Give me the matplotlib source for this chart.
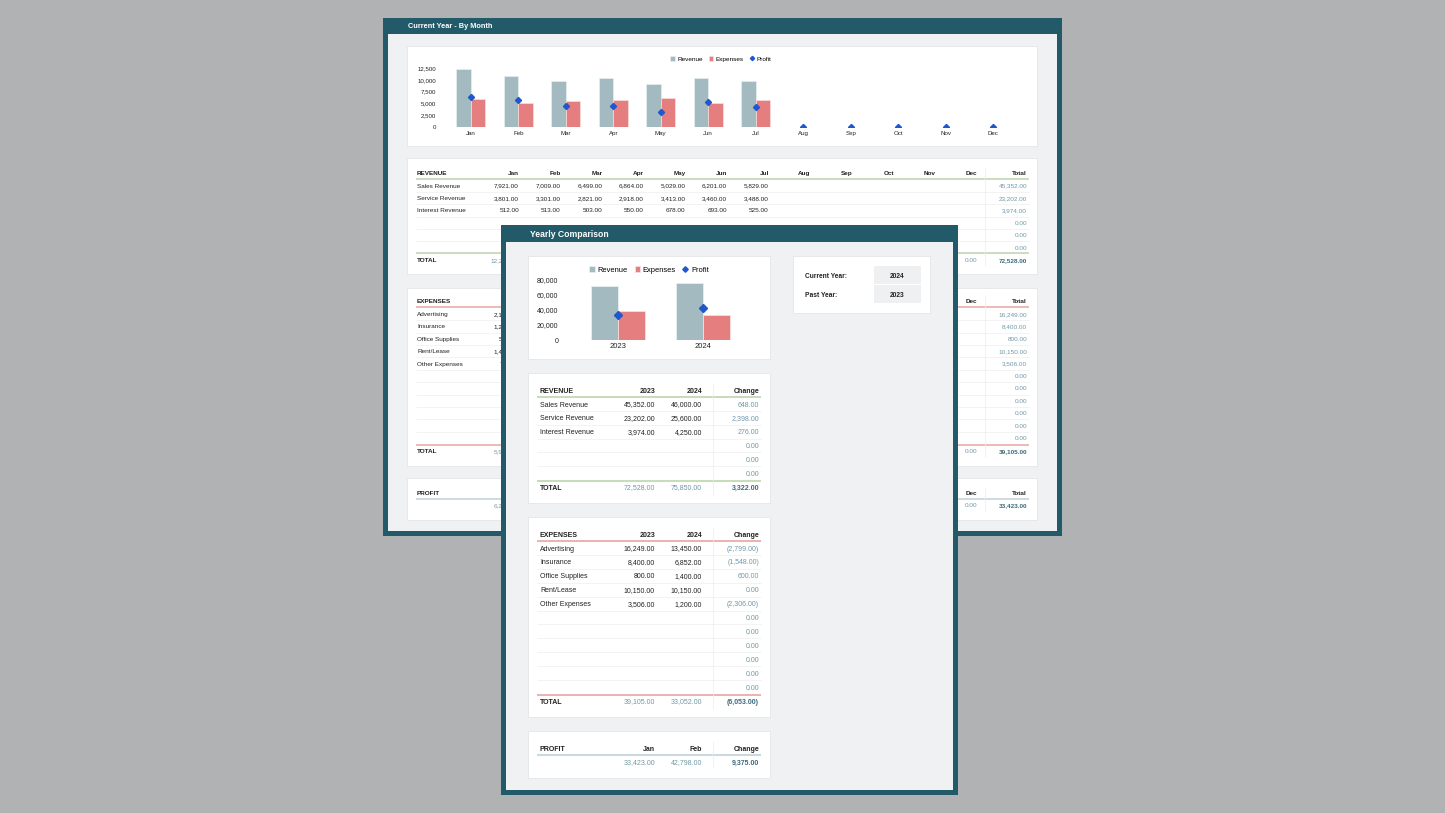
import numpy as np
import matplotlib.pyplot as plt
from matplotlib.patches import Rectangle

plt.rcParams['font.family'] = ['Liberation Sans', 'DejaVu Sans']

W, H = 1445, 813

# ---- data ----
months = ['Jan', 'Feb', 'Mar', 'Apr', 'May', 'Jun', 'Jul', 'Aug', 'Sep', 'Oct', 'Nov', 'Dec']
revenue_cats = ['Sales Revenue', 'Service Revenue', 'Interest Revenue']
sales_rev = [7921, 7009, 6499, 6864, 5029, 6201, 5829]
service_rev = [3801, 3301, 2821, 2918, 3413, 3460, 3488]
interest_rev = [512, 513, 503, 550, 678, 693, 525]
month_expenses = [5984, 5020, 5435, 5811, 6045, 5104, 5706]

expense_cats = ['Advertising', 'Insurance', 'Office Supplies', 'Rent/Lease', 'Other Expenses']
expense_jan = [2134, 1200, 500, 1450, 700]
expense_2023 = [16249, 8400, 800, 10150, 3506]
expense_2024 = [13450, 6852, 1400, 10150, 1200]

years = ['2023', '2024']
revenue_2023 = [45352, 23202, 3974]
revenue_2024 = [46000, 25600, 4250]

TEAL = '#225a6a'
PANEL = '#eff1f3'
REV_C = '#a3bac1'
EXP_C = '#e57f7f'
PROF_C = '#1f57cf'
VAL_C = '#6f98a6'
BOLD_C = '#3c6a7b'
DARK = '#222222'

def fmt(v):
    s = f"{abs(v):,.2f}"
    return f"({s})" if v < 0 else s

rev_month = [a + b + c for a, b, c in zip(sales_rev, service_rev, interest_rev)]
profit_month = [r - e for r, e in zip(rev_month, month_expenses)]
n_empty = len(months) - len(rev_month)
rev_plot = rev_month + [0] * n_empty
exp_plot = month_expenses + [0] * n_empty
prof_plot = profit_month + [0] * n_empty

fig = plt.figure(figsize=(W / 100, H / 100), dpi=100)
fig.patch.set_facecolor('#b1b2b4')
bg = fig.add_axes([0, 0, 1, 1])
bg.set_xlim(0, W)
bg.set_ylim(H, 0)
bg.axis('off')


def rect(x0, y0, x1, y1, fc, ec='none', lw=0, z=1):
    bg.add_patch(Rectangle((x0, y0), x1 - x0, y1 - y0, facecolor=fc, edgecolor=ec, linewidth=lw, zorder=z))


def txt(x, y, s, ha='left', size=4.6, bold=False, color=DARK, z=2):
    bg.text(x, y, s, ha=ha, va='center_baseline', fontsize=size, fontweight='bold' if bold else 'normal',
            color=color, zorder=z)


def hline(x0, x1, y, color, lw=0.5, z=2):
    bg.plot([x0, x1], [y, y], color=color, lw=lw, zorder=z, solid_capstyle='butt')


def vline(x, y0, y1, color='#ececec', lw=0.5, z=2):
    bg.plot([x, x], [y0, y1], color=color, lw=lw, zorder=z)


def axes_px(x0, y0, x1, y1):
    return fig.add_axes([x0 / W, 1 - y1 / H, (x1 - x0) / W, (y1 - y0) / H])


def legend(ax, cx, cy, size):
    h, l = ax.get_legend_handles_labels()
    order = [l.index('Revenue'), l.index('Expenses'), l.index('Profit')]
    ax.legend([h[i] for i in order], [l[i] for i in order], ncol=3, frameon=False, fontsize=size,
              handlelength=0.7, handleheight=0.7, handletextpad=0.4, columnspacing=0.9, loc='center',
              markerscale=0.7, bbox_to_anchor=(cx / W, 1 - cy / H), bbox_transform=fig.transFigure)


# ---- back panel: Current Year - By Month ----
rect(383, 18, 1062, 536, TEAL, z=0.5)
rect(388, 34, 1057, 531, PANEL, z=0.6)
txt(408, 26, 'Current Year - By Month', size=5.3, bold=True, color='white')
for y0, y1 in [(46, 146), (158, 274), (288, 466), (478, 520)]:
    rect(407, y0, 1037, y1, 'white', ec='#e3e5e8', lw=0.6, z=1)

col_x = [519 + 41.65 * i for i in range(12)]
tot_x = 1027
lab_x = 417

# revenue table
txt(lab_x, 173, 'REVENUE', bold=True)
for m, x in zip(months, col_x):
    txt(x, 173, m, ha='right', bold=True)
txt(tot_x, 173, 'Total', ha='right', bold=True)
hline(416, 1029, 179.5, '#bcd5ab', lw=1.1)
rows = [sales_rev, service_rev, interest_rev]
for k in range(6):
    y = 185.5 + 12.45 * k
    if k < 3:
        txt(lab_x, y, revenue_cats[k])
        for v, x in zip(rows[k], col_x):
            txt(x, y, fmt(v), ha='right')
        txt(tot_x, y, fmt(sum(rows[k])), ha='right', color=VAL_C)
    else:
        txt(tot_x, y, fmt(0), ha='right', color=VAL_C)
    if k < 5:
        hline(416, 1029, y + 6.2, '#eeeeee')
hline(416, 1029, 253.5, '#bcd5ab', lw=1.1)
txt(lab_x, 260, 'TOTAL', bold=True)
for k, x in enumerate(col_x):
    txt(x, 260, fmt(rev_plot[k]), ha='right', color=VAL_C)
txt(tot_x, 260, fmt(sum(rev_month)), ha='right', bold=True, color=BOLD_C)
vline(985, 167, 266)

# expenses table
txt(lab_x, 301, 'EXPENSES', bold=True)
for m, x in zip(months, col_x):
    txt(x, 301, m, ha='right', bold=True)
txt(tot_x, 301, 'Total', ha='right', bold=True)
hline(416, 1029, 307.5, '#e8a5a5', lw=1.1)
for k in range(11):
    y = 314 + 12.4 * k
    if k < len(expense_cats):
        txt(lab_x, y, expense_cats[k])
        txt(col_x[0], y, fmt(expense_jan[k]), ha='right')
        txt(tot_x, y, fmt(expense_2023[k]), ha='right', color=VAL_C)
    else:
        txt(tot_x, y, fmt(0), ha='right', color=VAL_C)
    if k < 10:
        hline(416, 1029, y + 6.2, '#eeeeee')
hline(416, 1029, 445, '#e8a5a5', lw=1.1)
txt(lab_x, 451, 'TOTAL', bold=True)
for k, x in enumerate(col_x):
    txt(x, 451, fmt(exp_plot[k]), ha='right', color=VAL_C)
txt(tot_x, 451, fmt(sum(month_expenses)), ha='right', bold=True, color=BOLD_C)
vline(985, 295, 457)

# profit table
txt(lab_x, 493, 'PROFIT', bold=True)
for m, x in zip(months, col_x):
    txt(x, 493, m, ha='right', bold=True)
txt(tot_x, 493, 'Total', ha='right', bold=True)
hline(416, 1029, 499, '#c9d9df', lw=1.3)
for k, x in enumerate(col_x):
    txt(x, 505, fmt(prof_plot[k]), ha='right', color=VAL_C)
txt(tot_x, 505, fmt(sum(profit_month)), ha='right', bold=True, color=BOLD_C)
vline(985, 487, 511)

# back chart
ax1 = axes_px(447, 68, 1017, 127)
xi = np.arange(len(months))
bw = 0.31
ax1.bar(xi - bw / 2, rev_plot, bw, color=REV_C, edgecolor='#e6eef0', linewidth=0.5, label='Revenue')
ax1.bar(xi + bw / 2, exp_plot, bw, color=EXP_C, edgecolor='#f6dede', linewidth=0.5, label='Expenses')
ax1.plot(xi, prof_plot, linestyle='none', marker='D', markersize=3.1, color=PROF_C, label='Profit')
ax1.set_xlim(-0.5, len(months) - 0.5)
ax1.set_ylim(0, 12500)
ax1.set_yticks(np.arange(0, 12501, 2500))
ax1.set_yticklabels([f"{v:,}" for v in range(0, 12501, 2500)])
ax1.set_xticks(xi)
ax1.set_xticklabels(months)
ax1.tick_params(length=0, labelsize=4.4, colors=DARK)
ax1.tick_params(axis='y', pad=8)
ax1.tick_params(axis='x', pad=3)
for s in ax1.spines.values():
    s.set_visible(False)
ax1.patch.set_alpha(0)
legend(ax1, 721, 59, 4.6)

# ---- front panel: Yearly Comparison ----
Z = 5
rect(501, 225, 958, 795, TEAL, z=Z)
rect(506, 242, 953, 790, PANEL, z=Z + 0.1)
txt(530, 233.5, 'Yearly Comparison', size=6.2, bold=True, color='white', z=Z + 1)
for x0, y0, x1, y1 in [(528, 256, 770, 359), (793, 256, 930, 313), (528, 373, 770, 503),
                       (528, 517, 770, 717), (528, 731, 770, 778)]:
    rect(x0, y0, x1, y1, 'white', ec='#e3e5e8', lw=0.6, z=Z + 0.2)

# current / past year box
txt(805, 275, 'Current Year:', size=4.8, bold=True, z=Z + 1)
txt(805, 294, 'Past Year:', size=4.8, bold=True, z=Z + 1)
rect(874, 266, 921, 284.3, '#eef0f2', z=Z + 0.5)
rect(874, 285.3, 921, 303, '#eef0f2', z=Z + 0.5)
txt(897.5, 275, years[1], ha='center', size=4.8, bold=True, z=Z + 1)
txt(897.5, 294, years[0], ha='center', size=4.8, bold=True, z=Z + 1)

fx = [540, 655, 702, 759]
fs = 5.0

# front revenue table
txt(fx[0], 390, 'REVENUE', size=fs, bold=True, z=Z + 1)
for s, x in zip(years + ['Change'], fx[1:]):
    txt(x, 390, s, ha='right', size=fs, bold=True, z=Z + 1)
hline(537, 761, 397, '#bcd5ab', lw=1.2, z=Z + 1)
for k in range(6):
    y = 404 + 13.85 * k
    if k < 3:
        txt(fx[0], y, revenue_cats[k], size=fs, z=Z + 1)
        txt(fx[1], y, fmt(revenue_2023[k]), ha='right', size=fs, z=Z + 1)
        txt(fx[2], y, fmt(revenue_2024[k]), ha='right', size=fs, z=Z + 1)
        txt(fx[3], y, fmt(revenue_2024[k] - revenue_2023[k]), ha='right', size=fs, color=VAL_C, z=Z + 1)
    else:
        txt(fx[3], y, fmt(0), ha='right', size=fs, color=VAL_C, z=Z + 1)
    if k < 5:
        hline(537, 761, y + 6.9, '#eeeeee', z=Z + 1)
hline(537, 761, 480.5, '#bcd5ab', lw=1.2, z=Z + 1)
txt(fx[0], 487, 'TOTAL', size=fs, bold=True, z=Z + 1)
txt(fx[1], 487, fmt(sum(revenue_2023)), ha='right', size=fs, color=VAL_C, z=Z + 1)
txt(fx[2], 487, fmt(sum(revenue_2024)), ha='right', size=fs, color=VAL_C, z=Z + 1)
txt(fx[3], 487, fmt(sum(revenue_2024) - sum(revenue_2023)), ha='right', size=fs, bold=True,
    color=BOLD_C, z=Z + 1)
vline(713, 383, 495, z=Z + 1)

# front expenses table
txt(fx[0], 534, 'EXPENSES', size=fs, bold=True, z=Z + 1)
for s, x in zip(years + ['Change'], fx[1:]):
    txt(x, 534, s, ha='right', size=fs, bold=True, z=Z + 1)
hline(537, 761, 541, '#e8a5a5', lw=1.2, z=Z + 1)
for k in range(11):
    y = 548 + 13.9 * k
    if k < len(expense_cats):
        txt(fx[0], y, expense_cats[k], size=fs, z=Z + 1)
        txt(fx[1], y, fmt(expense_2023[k]), ha='right', size=fs, z=Z + 1)
        txt(fx[2], y, fmt(expense_2024[k]), ha='right', size=fs, z=Z + 1)
        txt(fx[3], y, fmt(expense_2024[k] - expense_2023[k]), ha='right', size=fs, color=VAL_C, z=Z + 1)
    else:
        txt(fx[3], y, fmt(0), ha='right', size=fs, color=VAL_C, z=Z + 1)
    if k < 10:
        hline(537, 761, y + 6.95, '#eeeeee', z=Z + 1)
hline(537, 761, 694.5, '#e8a5a5', lw=1.2, z=Z + 1)
txt(fx[0], 701, 'TOTAL', size=fs, bold=True, z=Z + 1)
txt(fx[1], 701, fmt(sum(expense_2023)), ha='right', size=fs, color=VAL_C, z=Z + 1)
txt(fx[2], 701, fmt(sum(expense_2024)), ha='right', size=fs, color=VAL_C, z=Z + 1)
txt(fx[3], 701, fmt(sum(expense_2024) - sum(expense_2023)), ha='right', size=fs, bold=True,
    color=BOLD_C, z=Z + 1)
vline(713, 527, 709, z=Z + 1)

# front profit table
profit_year = [sum(revenue_2023) - sum(expense_2023), sum(revenue_2024) - sum(expense_2024)]
txt(fx[0], 748, 'PROFIT', size=fs, bold=True, z=Z + 1)
for s, x in zip(['Jan', 'Feb', 'Change'], fx[1:]):
    txt(x, 748, s, ha='right', size=fs, bold=True, z=Z + 1)
hline(537, 761, 755, '#c9d9df', lw=1.5, z=Z + 1)
txt(fx[1], 762, fmt(profit_year[0]), ha='right', size=fs, color=VAL_C, z=Z + 1)
txt(fx[2], 762, fmt(profit_year[1]), ha='right', size=fs, color=VAL_C, z=Z + 1)
txt(fx[3], 762, fmt(profit_year[1] - profit_year[0]), ha='right', size=fs, bold=True, color=BOLD_C, z=Z + 1)
vline(713, 741, 768, z=Z + 1)

# front chart
ax2 = axes_px(575.5, 280, 745.5, 340)
yx = np.arange(len(years))
bw2 = 0.32
ax2.bar(yx - bw2 / 2, [sum(revenue_2023), sum(revenue_2024)], bw2, color=REV_C, edgecolor='#e6eef0',
        linewidth=0.6, label='Revenue')
ax2.bar(yx + bw2 / 2, [sum(expense_2023), sum(expense_2024)], bw2, color=EXP_C, edgecolor='#f6dede',
        linewidth=0.6, label='Expenses')
ax2.plot(yx, profit_year, linestyle='none', marker='D', markersize=4.0, color=PROF_C, label='Profit')
ax2.set_xlim(-0.5, 1.5)
ax2.set_ylim(0, 80000)
ax2.set_yticks(np.arange(0, 80001, 20000))
ax2.set_yticklabels([f"{v:,}" for v in range(0, 80001, 20000)])
ax2.set_xticks(yx)
ax2.set_xticklabels(years)
ax2.tick_params(length=0, labelsize=5.0, colors=DARK)
ax2.tick_params(axis='y', pad=12.5)
ax2.tick_params(axis='x', pad=2.5, labelsize=5.5)
for s in ax2.spines.values():
    s.set_visible(False)
ax2.patch.set_alpha(0)
legend(ax2, 649, 270, 5.4)

fig.savefig('out.png', dpi=100)
